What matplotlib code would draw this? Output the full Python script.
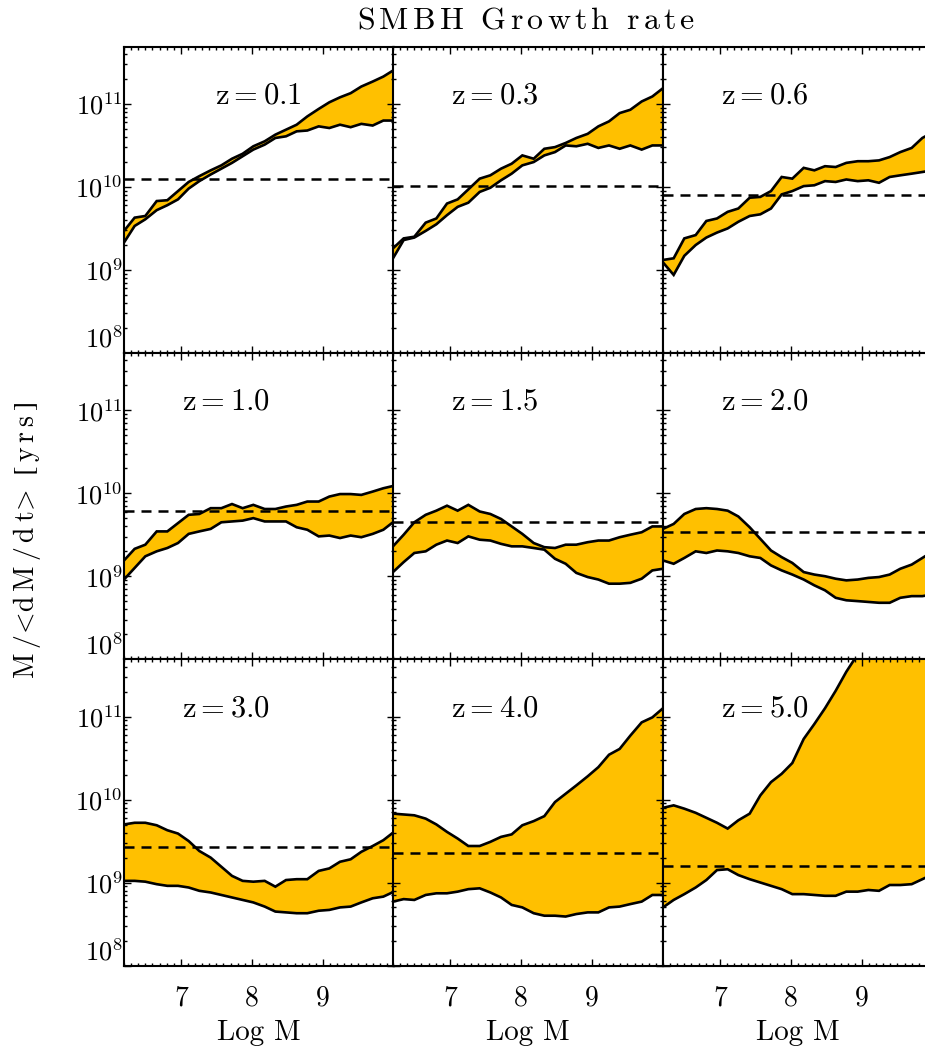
import numpy as np
import matplotlib.pyplot as plt
from matplotlib.ticker import FixedLocator, MultipleLocator, LogLocator, LogFormatterMathtext, NullFormatter

plt.rcParams['mathtext.fontset'] = 'cm'
plt.rcParams['font.family'] = ['cmr10', 'DejaVu Serif']
plt.rcParams['axes.formatter.use_mathtext'] = True

log_m = [6.20, 6.35, 6.50, 6.66, 6.81, 6.96, 7.11, 7.26, 7.42, 7.57, 7.72, 7.87, 8.02,
         8.18, 8.33, 8.48, 8.63, 8.78, 8.94, 9.09, 9.24, 9.39, 9.54, 9.70, 9.85, 10.00]

redshifts = ['0.1', '0.3', '0.6', '1.0', '1.5', '2.0', '3.0', '4.0', '5.0']

# log10 of M/<dM/dt> in years, upper and lower edge of the band
z01_hi = [9.47, 9.63, 9.65, 9.83, 9.84, 9.95, 10.06, 10.13, 10.20, 10.26, 10.34, 10.40, 10.49,
          10.55, 10.63, 10.69, 10.75, 10.85, 10.94, 11.02, 11.08, 11.13, 11.21, 11.27, 11.33, 11.41]
z01_lo = [9.33, 9.53, 9.61, 9.72, 9.78, 9.85, 9.98, 10.07, 10.15, 10.22, 10.29, 10.37, 10.45,
          10.51, 10.59, 10.61, 10.67, 10.68, 10.73, 10.71, 10.75, 10.72, 10.76, 10.74, 10.80, 10.80]

z03_hi = [9.26, 9.38, 9.40, 9.57, 9.62, 9.80, 9.85, 9.97, 10.10, 10.14, 10.22, 10.28, 10.38,
          10.34, 10.46, 10.48, 10.53, 10.59, 10.64, 10.73, 10.79, 10.89, 10.93, 11.03, 11.09, 11.19]
z03_lo = [9.14, 9.36, 9.39, 9.47, 9.55, 9.66, 9.76, 9.81, 9.94, 9.99, 10.08, 10.16, 10.26,
          10.30, 10.38, 10.42, 10.50, 10.49, 10.52, 10.47, 10.50, 10.46, 10.50, 10.45, 10.50, 10.50]

z06_hi = [9.12, 9.14, 9.38, 9.42, 9.59, 9.62, 9.70, 9.74, 9.87, 9.88, 9.95, 10.12, 10.10,
          10.23, 10.20, 10.25, 10.24, 10.29, 10.31, 10.31, 10.32, 10.36, 10.42, 10.47, 10.59, 10.66]
z06_lo = [9.09, 8.94, 9.17, 9.30, 9.39, 9.45, 9.50, 9.58, 9.65, 9.67, 9.74, 9.91, 9.95,
          10.01, 10.02, 10.07, 10.06, 10.09, 10.07, 10.08, 10.05, 10.12, 10.14, 10.16, 10.18, 10.20]

z10_hi = [9.19, 9.33, 9.38, 9.54, 9.54, 9.64, 9.74, 9.75, 9.82, 9.82, 9.87, 9.82, 9.86,
          9.81, 9.81, 9.84, 9.86, 9.90, 9.90, 9.96, 9.99, 9.99, 9.98, 10.02, 10.06, 10.09]
z10_lo = [8.96, 9.10, 9.24, 9.30, 9.34, 9.40, 9.51, 9.54, 9.57, 9.65, 9.66, 9.67, 9.70,
          9.66, 9.66, 9.66, 9.59, 9.56, 9.48, 9.49, 9.46, 9.49, 9.47, 9.51, 9.56, 9.66]

z15_hi = [9.36, 9.50, 9.65, 9.74, 9.79, 9.85, 9.79, 9.86, 9.78, 9.75, 9.69, 9.60, 9.51,
          9.40, 9.35, 9.34, 9.38, 9.38, 9.41, 9.43, 9.43, 9.47, 9.50, 9.53, 9.60, 9.60]
z15_lo = [9.05, 9.17, 9.28, 9.30, 9.38, 9.43, 9.40, 9.48, 9.44, 9.43, 9.39, 9.36, 9.36,
          9.34, 9.32, 9.21, 9.15, 9.04, 8.99, 8.96, 8.91, 8.91, 8.92, 8.97, 9.07, 9.09]

z20_hi = [9.57, 9.63, 9.75, 9.81, 9.82, 9.81, 9.79, 9.72, 9.59, 9.45, 9.31, 9.23, 9.16,
          9.05, 9.02, 9.00, 8.97, 8.95, 8.96, 8.98, 8.99, 9.02, 9.09, 9.14, 9.22, 9.30]
z20_lo = [9.19, 9.15, 9.22, 9.30, 9.28, 9.31, 9.30, 9.28, 9.24, 9.22, 9.13, 9.07, 9.02,
          8.96, 8.89, 8.83, 8.74, 8.71, 8.70, 8.69, 8.68, 8.68, 8.74, 8.76, 8.76, 8.78]

z30_hi = [9.70, 9.72, 9.72, 9.69, 9.63, 9.59, 9.50, 9.38, 9.30, 9.19, 9.08, 9.02, 9.01,
          9.02, 8.95, 9.03, 9.04, 9.04, 9.14, 9.17, 9.25, 9.28, 9.37, 9.44, 9.51, 9.61]
z30_lo = [9.02, 9.02, 9.01, 8.98, 8.96, 8.96, 8.94, 8.90, 8.88, 8.85, 8.82, 8.79, 8.76,
          8.71, 8.65, 8.64, 8.63, 8.63, 8.66, 8.67, 8.70, 8.71, 8.76, 8.81, 8.83, 8.89]

z40_hi = [9.83, 9.82, 9.81, 9.77, 9.70, 9.61, 9.53, 9.44, 9.44, 9.49, 9.55, 9.58, 9.69,
          9.74, 9.80, 9.97, 10.07, 10.17, 10.28, 10.39, 10.54, 10.61, 10.77, 10.93, 10.99, 11.10]
z40_lo = [8.77, 8.80, 8.79, 8.85, 8.87, 8.87, 8.89, 8.92, 8.93, 8.88, 8.82, 8.73, 8.70,
          8.63, 8.60, 8.60, 8.59, 8.62, 8.64, 8.64, 8.70, 8.71, 8.74, 8.77, 8.85, 8.85]

z50_hi = [9.90, 9.93, 9.89, 9.84, 9.78, 9.72, 9.65, 9.75, 9.83, 10.05, 10.21, 10.31, 10.44,
          10.73, 10.91, 11.10, 11.31, 11.54, 11.75, 11.75, 11.75, 11.75, 11.75, 11.75, 11.75, 11.75]
z50_lo = [8.70, 8.79, 8.86, 8.94, 9.03, 9.15, 9.16, 9.09, 9.04, 9.00, 8.96, 8.92, 8.86,
          8.86, 8.85, 8.84, 8.84, 8.89, 8.89, 8.91, 8.90, 8.97, 8.97, 8.98, 9.04, 9.10]

# dashed reference level in each panel (log10 yrs)
dashed_level = [10.09, 10.01, 9.90, 9.78, 9.65, 9.53, 9.43, 9.35, 9.20]

bands_hi = [z01_hi, z03_hi, z06_hi, z10_hi, z15_hi, z20_hi, z30_hi, z40_hi, z50_hi]
bands_lo = [z01_lo, z03_lo, z06_lo, z10_lo, z15_lo, z20_lo, z30_lo, z40_lo, z50_lo]


def spaced(s, gap):
    # roman mathtext with a little extra room between the letters
    parts = []
    for c in s:
        if c == ' ':
            parts.append(r'\ ')
        elif c == '[':
            parts.append(r'\lbrack')
        elif c == ']':
            parts.append(r'\rbrack')
        else:
            parts.append(c)
    return r'$\mathrm{' + (r'\hspace{%.2f}' % gap).join(parts) + '}$'


fig = plt.figure(figsize=(9.25, 10.49), dpi=100)

W, H = 925.0, 1049.0
col_left = [124, 393, 663]
row_top = [46.7, 353.0, 659.3]
pw, ph = 270.0, 306.2

x = np.array(log_m)
for i in range(9):
    row, col = i // 3, i % 3
    ax = fig.add_axes([col_left[col] / W, 1 - (row_top[row] + ph) / H, pw / W, ph / H])

    hi = 10 ** np.array(bands_hi[i])
    lo = 10 ** np.array(bands_lo[i])
    ax.fill_between(x, lo, hi, color='#FFC000', lw=0, zorder=1)
    ax.plot(x, hi, color='k', lw=1.9, zorder=2, solid_joinstyle='miter')
    ax.plot(x, lo, color='k', lw=1.9, zorder=2, solid_joinstyle='miter')
    ax.axhline(10 ** dashed_level[i], color='k', lw=1.8, dashes=(4.0, 2.8), zorder=3)

    ax.set_yscale('log')
    ax.set_xlim(6.2, 10.0)
    ax.set_ylim(1e8, 10 ** 11.69)

    ax.xaxis.set_major_locator(FixedLocator([7, 8, 9, 10]))
    ax.xaxis.set_minor_locator(MultipleLocator(0.1))
    ax.yaxis.set_major_locator(FixedLocator([1e8, 1e9, 1e10, 1e11]))
    ax.yaxis.set_minor_locator(LogLocator(base=10, subs=np.arange(2, 10), numticks=20))
    ax.yaxis.set_major_formatter(LogFormatterMathtext())
    ax.yaxis.set_minor_formatter(NullFormatter())
    ax.xaxis.set_major_formatter(plt.FuncFormatter(lambda v, p: '%d' % v if v < 9.5 else ''))

    for s in ax.spines.values():
        s.set_linewidth(1.5)
    ax.tick_params(which='both', direction='in', top=True, right=True, width=1.0)
    ax.tick_params(which='major', length=5)
    ax.tick_params(which='minor', length=2.5)
    ax.tick_params(axis='y', labelsize=19, pad=1)
    ax.tick_params(axis='x', labelsize=20, pad=14)
    ax.tick_params(labelleft=(col == 0), labelbottom=(row == 2))

    if col == 0:
        # lowest decade label sits on the frame edge
        ax.yaxis.get_major_ticks()[0].label1.set_verticalalignment('bottom')
    if row == 2:
        ax.set_xlabel('Log M', fontsize=21, labelpad=6)

    tx = 0.338 if i == 0 else 0.215
    ax.text(tx, 0.84, r'$\mathrm{z=%s}$' % redshifts[i], transform=ax.transAxes,
            fontsize=22, ha='left', va='center')

fig.text(526 / W, 1 - 21 / H, spaced('SMBH Growth rate', 0.15), fontsize=23,
         ha='center', va='center')
fig.text(27 / W, 1 - 540 / H, r'$\mathrm{M\hspace{0.2}/\!<\!d\hspace{0.2}M\hspace{0.2}/'
         r'\hspace{0.2}d\hspace{0.2}t\!>\ \lbrack\hspace{0.2}y\hspace{0.2}r\hspace{0.2}s'
         r'\hspace{0.2}\rbrack}$',
         fontsize=20, rotation=90, ha='center', va='center')

fig.savefig('out.png', dpi=100)
